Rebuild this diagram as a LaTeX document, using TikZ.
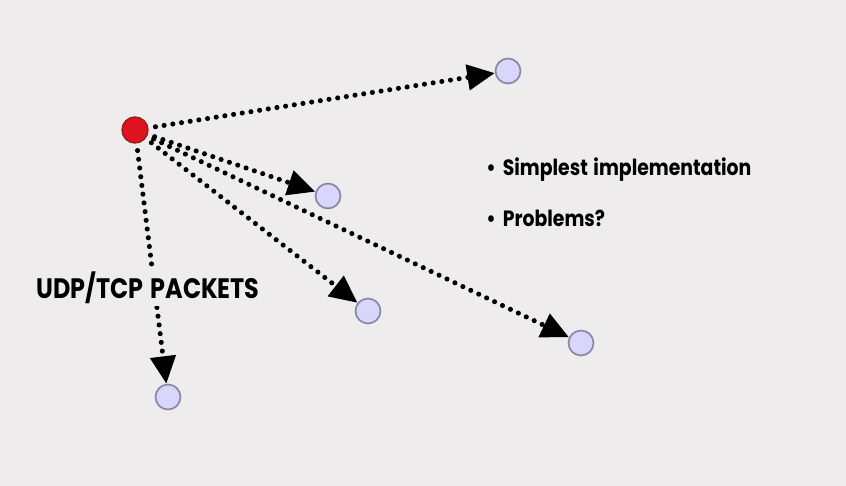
\documentclass[tikz,border=0pt]{standalone}
\usepackage{fontspec}
\setmainfont{Poppins}[FakeStretch=0.85,WordSpace=1.4]
\usepackage{tikz}
\usetikzlibrary{arrows.meta}
\definecolor{bgcol}{HTML}{EFECEE}
\definecolor{hostfill}{HTML}{D8D6FA}
\definecolor{hostline}{HTML}{8C89A6}
\definecolor{srcfill}{HTML}{DD1420}
\definecolor{srcline}{HTML}{9A1C1C}

\begin{document}
\begin{tikzpicture}[
  x=0.02cm,y=-0.02cm,
  host/.style={circle,draw=hostline,fill=hostfill,line width=1pt,minimum size=0.5cm,inner sep=0pt},
  src/.style={circle,draw=srcline,fill=srcfill,line width=0.8pt,minimum size=0.52cm,inner sep=0pt},
  pkt/.style={line width=2.9pt,line cap=round,dash pattern=on 0pt off 5pt,
    -{Triangle[length=0.55cm,width=0.5cm]},shorten <=4pt},
  lbl/.style={font=\bfseries\fontsize{16}{18}\selectfont,text=black},
  txt/.style={font=\bfseries\fontsize{12.6}{15}\selectfont,text=black,anchor=west,inner sep=0pt}
]
\fill[bgcol] (0,0) rectangle (846,486);
\useasboundingbox (0,0) rectangle (846,486);

\node[src] (sender) at (135,130) {};
\node[host] (h1) at (508,71) {};
\node[host] (h2) at (328,196) {};
\node[host] (h3) at (368,311) {};
\node[host] (h4) at (581,343) {};
\node[host] (h5) at (168,397) {};

\draw[pkt] (sender) -- (h1);
\draw[pkt] (sender) -- (h2);
\draw[pkt] (sender) -- (h3);
\draw[pkt] (sender) -- (h4);
\draw[pkt] (sender) -- (h5);

\node[lbl,fill=bgcol,inner sep=1pt] (proto) at (148,288) {UDP/TCP PACKETS};

\node[txt] (pro) at (486,170) {\textbullet\hspace{4pt}Simplest implementation};
\node[txt] (con) at (486,218) {\textbullet\hspace{4pt}Problems?};
\end{tikzpicture}
\end{document}
